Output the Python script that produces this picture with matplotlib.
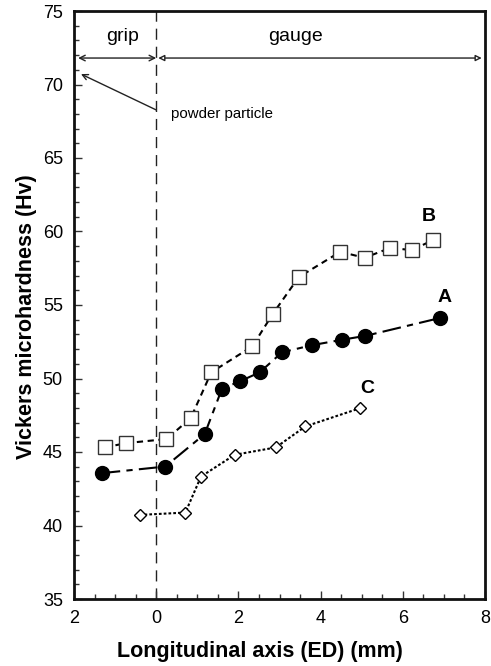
import matplotlib
matplotlib.use("Agg")
import matplotlib.pyplot as plt
from matplotlib.ticker import MultipleLocator, FuncFormatter

plt.rcParams['font.family'] = ['Liberation Sans', 'DejaVu Sans']

# Data
a_x = [-1.33, 0.22, 1.18, 1.60, 2.03, 2.52, 3.06, 3.78, 4.53, 5.09, 6.91]
a_y = [43.56, 44.01, 46.22, 49.3, 49.8, 50.42, 51.78, 52.26, 52.64, 52.9, 54.12]
b_x = [-1.25, -0.74, 0.25, 0.84, 1.34, 2.34, 2.84, 3.47, 4.48, 5.07, 5.70, 6.22, 6.73]
b_y = [45.31, 45.6, 45.88, 47.3, 50.42, 52.19, 54.41, 56.9, 58.62, 58.21, 58.89, 58.73, 59.41]
c_x = [-0.40, 0.71, 1.09, 1.91, 2.91, 3.63, 4.97]
c_y = [40.72, 40.88, 43.33, 44.81, 45.31, 46.74, 47.99]
series_labels = ['A', 'B', 'C']
xlabel = 'Longitudinal axis (ED) (mm)'
ylabel = 'Vickers microhardness (Hv)'

fig = plt.figure(figsize=(4.91, 6.66), dpi=100)
ax = fig.add_axes([74/491, 1-599/666, (485-74)/491, (599-11)/666])

ax.plot(a_x, a_y, color='black', lw=1.5, dashes=[9, 3, 3, 3], marker='o',
        markersize=10, markerfacecolor='black', markeredgecolor='black', zorder=3)
ax.plot(b_x, b_y, color='black', lw=1.5, dashes=[3, 2.2], marker='s',
        markersize=10, markerfacecolor='white', markeredgecolor='#333333',
        markeredgewidth=1.0, zorder=3)
ax.plot(c_x, c_y, color='black', lw=1.5, dashes=[1.3, 1.0], marker='D',
        markersize=6.5, markerfacecolor='white', markeredgecolor='black',
        markeredgewidth=1.0, zorder=3)

ax.text(7.02, 55.52, series_labels[0], fontsize=14, fontweight='bold', ha='center', va='center')
ax.text(6.64, 61.05, series_labels[1], fontsize=14, fontweight='bold', ha='center', va='center')
ax.text(5.13, 49.3, series_labels[2], fontsize=14, fontweight='bold', ha='center', va='center')

ax.axvline(0, color='#222222', lw=1.0, dashes=[8, 5], zorder=1)

# grip / gauge arrows
ax.annotate('', xy=(-1.9, 71.8), xytext=(0, 71.8),
            arrowprops=dict(arrowstyle='<->', color='#222222', lw=1.0,
                            shrinkA=0, shrinkB=0, mutation_scale=10))
ax.annotate('', xy=(0.05, 71.8), xytext=(7.92, 71.8),
            arrowprops=dict(arrowstyle='<|-|>', color='#222222', lw=1.0, fc='white',
                            shrinkA=0, shrinkB=0, mutation_scale=9))
ax.text(-0.82, 73.25, 'grip', fontsize=14, ha='center', va='center')
ax.text(3.39, 73.25, 'gauge', fontsize=14, ha='center', va='center')

ax.annotate('', xy=(-1.83, 70.71), xytext=(0, 68.27),
            arrowprops=dict(arrowstyle='->', color='#222222', lw=1.0,
                            shrinkA=0, shrinkB=0, mutation_scale=10))
ax.text(0.37, 68.0, 'powder particle', fontsize=10.8, ha='left', va='center')

ax.set_xlim(-2, 8)
ax.set_ylim(35, 75)
ax.xaxis.set_major_locator(MultipleLocator(2))
ax.xaxis.set_minor_locator(MultipleLocator(0.5))
ax.yaxis.set_major_locator(MultipleLocator(5))
ax.yaxis.set_minor_locator(MultipleLocator(1))
ax.xaxis.set_major_formatter(FuncFormatter(lambda v, p: f'{abs(v):.0f}'))
ax.tick_params(which='both', direction='in', top=False, right=False, width=1.0, color='#333333')
ax.tick_params(which='major', length=6, labelsize=13)
ax.tick_params(axis='x', which='major', pad=8)
ax.tick_params(axis='y', which='major', pad=8)
ax.tick_params(which='minor', length=3.5)
for s in ax.spines.values():
    s.set_linewidth(2.0)
    s.set_color('#111111')

ax.set_xlabel(xlabel, fontsize=15.5, fontweight='bold')
ax.set_ylabel(ylabel, fontsize=15.5, fontweight='bold')
ax.xaxis.set_label_coords(0.4526, -0.071)
ax.yaxis.set_label_coords(-0.09, 0.481)

fig.savefig('out.png', dpi=100)
